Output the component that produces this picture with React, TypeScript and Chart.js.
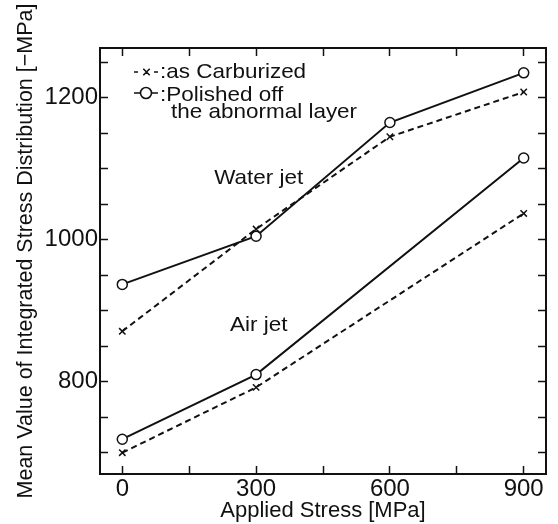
import React, { useEffect, useRef } from "react";
import { Chart, registerables } from "chart.js";

Chart.register(...registerables);

// ---- data ----
const appliedStress = [0, 300, 600, 900];
const airAppliedStress = [0, 300, 900];
const waterPolished = [937, 1005, 1165, 1235];
const waterCarburized = [871, 1015, 1145, 1208];
const airPolished = [719, 810, 1115];
const airCarburized = [700, 792, 1037];

const xTickValues = [0, 150, 300, 450, 600, 750, 900];
const xTickLabels = [0, 300, 600, 900];
const yTickValues = [700, 750, 800, 850, 900, 950, 1000, 1050, 1100, 1150, 1200, 1250];
const yTickLabels = [800, 1000, 1200];

const xTitle = "Applied Stress [MPa]";
const yTitle = "Mean Value of Integrated Stress Distribution [\u2212MPa]";
const legendCarburized = ":as Carburized";
const legendPolished = [":Polished off", "the abnormal layer"];
const annotations = [
  { text: "Water jet", x: 306, y: 1087 },
  { text: "Air jet", x: 306, y: 879 },
];

const FONT = "'Liberation Sans', Arial, Helvetica, sans-serif";
const INK = "#111";
const STRETCH = 1.07;

const pts = (xs: number[], ys: number[]) => xs.map((x, i) => ({ x, y: ys[i] }));

function stretchedText(ctx: any, text: string, x: number, y: number) {
  ctx.save();
  ctx.translate(x, y);
  ctx.scale(STRETCH, 1);
  ctx.fillText(text, 0, 0);
  ctx.restore();
}

const decorPlugin = {
  id: "decor",
  afterDraw(chart: any) {
    const { ctx, chartArea, scales } = chart;
    ctx.save();
    ctx.fillStyle = INK;
    ctx.strokeStyle = INK;

    // y axis title
    ctx.save();
    ctx.font = `21.5px ${FONT}`;
    ctx.translate(26, 251);
    ctx.rotate(-Math.PI / 2);
    ctx.textAlign = "center";
    ctx.textBaseline = "middle";
    ctx.fillText(yTitle, 0, 0);
    ctx.restore();

    // legend
    const L = chartArea.left;
    const T = chartArea.top;
    ctx.lineWidth = 1.6;
    // -x-
    const y1 = T + 24;
    ctx.beginPath();
    ctx.moveTo(L + 34, y1); ctx.lineTo(L + 38, y1);
    ctx.moveTo(L + 54, y1); ctx.lineTo(L + 58, y1);
    const cx = L + 46.5;
    ctx.moveTo(cx - 3.2, y1 - 3.2); ctx.lineTo(cx + 3.2, y1 + 3.2);
    ctx.moveTo(cx + 3.2, y1 - 3.2); ctx.lineTo(cx - 3.2, y1 + 3.2);
    ctx.stroke();
    // -O-
    const y2 = T + 45;
    ctx.beginPath();
    ctx.moveTo(L + 34, y2); ctx.lineTo(L + 40, y2);
    ctx.moveTo(L + 52, y2); ctx.lineTo(L + 58, y2);
    ctx.stroke();
    ctx.beginPath();
    ctx.arc(L + 46, y2, 5.5, 0, Math.PI * 2);
    ctx.stroke();

    ctx.font = `21px ${FONT}`;
    ctx.textAlign = "left";
    ctx.textBaseline = "alphabetic";
    stretchedText(ctx, legendCarburized, L + 60, T + 30);
    stretchedText(ctx, legendPolished[0], L + 60, T + 53);
    stretchedText(ctx, legendPolished[1], L + 71, T + 70);

    // annotations
    ctx.textAlign = "center";
    ctx.textBaseline = "middle";
    for (const a of annotations) {
      stretchedText(ctx, a.text, scales.x.getPixelForValue(a.x), scales.y.getPixelForValue(a.y));
    }
    ctx.restore();
  },
};

const gridOpts = {
  drawOnChartArea: false,
  drawTicks: true,
  tickLength: -8,
  tickColor: INK,
  tickWidth: 1.5,
};
const borderOpts = { display: true, color: INK, width: 2 };

export default function App() {
  const ref = useRef<HTMLCanvasElement | null>(null);

  useEffect(() => {
    if (!ref.current) return;
    const chart = new Chart(ref.current, {
      type: "line",
      data: {
        datasets: [
          {
            label: "Water jet, as Carburized",
            data: pts(appliedStress, waterCarburized),
            borderColor: INK,
            backgroundColor: INK,
            borderWidth: 2,
            borderDash: [6, 4],
            pointStyle: "crossRot",
            pointRadius: 4.5,
            pointBorderWidth: 1.5,
            fill: false,
          },
          {
            label: "Air jet, as Carburized",
            data: pts(airAppliedStress, airCarburized),
            borderColor: INK,
            backgroundColor: INK,
            borderWidth: 2,
            borderDash: [6, 4],
            pointStyle: "crossRot",
            pointRadius: 4.5,
            pointBorderWidth: 1.5,
            fill: false,
          },
          {
            label: "Water jet, Polished",
            data: pts(appliedStress, waterPolished),
            borderColor: INK,
            backgroundColor: "#fff",
            borderWidth: 2,
            pointStyle: "circle",
            pointRadius: 5,
            pointBorderWidth: 1.5,
            fill: false,
          },
          {
            label: "Air jet, Polished",
            data: pts(airAppliedStress, airPolished),
            borderColor: INK,
            backgroundColor: "#fff",
            borderWidth: 2,
            pointStyle: "circle",
            pointRadius: 5,
            pointBorderWidth: 1.5,
            fill: false,
          },
        ],
      },
      options: {
        responsive: false,
        animation: false,
        devicePixelRatio: 1,
        layout: { padding: { top: 48, left: 0, right: 12, bottom: 0 } },
        plugins: { legend: { display: false }, tooltip: { enabled: false } },
        scales: {
          x: {
            type: "linear",
            position: "bottom",
            min: -50,
            max: 950,
            afterBuildTicks: (s: any) => {
              s.ticks = xTickValues.map((v) => ({ value: v }));
            },
            afterFit: (s: any) => {
              s.height = 50;
            },
            ticks: {
              color: INK,
              font: { family: FONT, size: 24 },
              padding: 9,
              maxRotation: 0,
              autoSkip: false,
              callback: (v: any) => (xTickLabels.includes(Number(v)) ? String(v) : ""),
            },
            grid: gridOpts,
            border: borderOpts,
            title: {
              display: true,
              text: xTitle,
              color: INK,
              font: { family: FONT, size: 22 },
              padding: { top: 0, bottom: 0 },
            },
          },
          y: {
            type: "linear",
            position: "left",
            min: 670,
            max: 1270,
            afterBuildTicks: (s: any) => {
              s.ticks = yTickValues.map((v) => ({ value: v }));
            },
            afterFit: (s: any) => {
              s.width = 100;
            },
            ticks: {
              color: INK,
              font: { family: FONT, size: 24 },
              padding: 10,
              autoSkip: false,
              callback: (v: any) => (yTickLabels.includes(Number(v)) ? String(v) : ""),
            },
            grid: gridOpts,
            border: borderOpts,
          },
          x2: {
            type: "linear",
            position: "top",
            min: -50,
            max: 950,
            afterBuildTicks: (s: any) => {
              s.ticks = xTickValues.map((v) => ({ value: v }));
            },
            afterFit: (s: any) => {
              s.height = 0;
            },
            ticks: { display: false },
            grid: gridOpts,
            border: borderOpts,
          },
          y2: {
            type: "linear",
            position: "right",
            min: 670,
            max: 1270,
            afterBuildTicks: (s: any) => {
              s.ticks = yTickValues.map((v) => ({ value: v }));
            },
            afterFit: (s: any) => {
              s.width = 0;
            },
            ticks: { display: false },
            grid: gridOpts,
            border: borderOpts,
          },
        },
      },
      plugins: [decorPlugin],
    } as any);
    return () => chart.destroy();
  }, []);

  return (
    <div style={{ position: "fixed", left: 0, top: 0, width: 558, height: 524, background: "#fff" }}>
      <canvas ref={ref} width={558} height={524} style={{ display: "block" }} />
    </div>
  );
}
